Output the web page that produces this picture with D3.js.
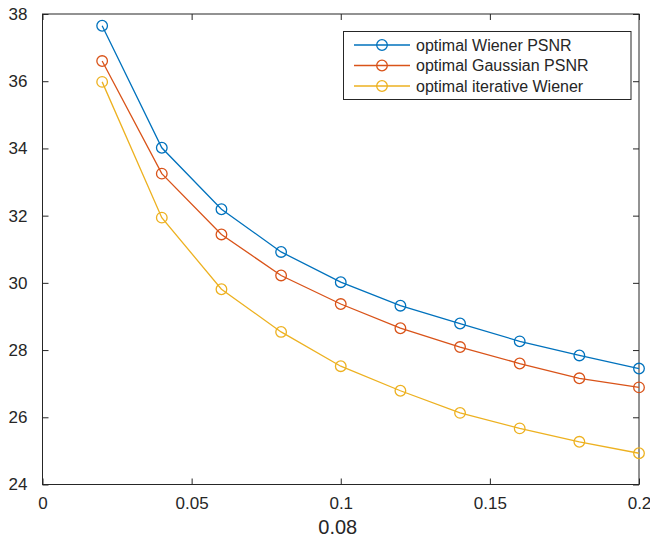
<!DOCTYPE html>
<html>
<head>
<meta charset="utf-8">
<script src="https://cdn.jsdelivr.net/npm/d3@7"></script>
<style>
  html, body { margin: 0; padding: 0; background: #fff; }
  svg { display: block; }
  text { font-family: "Liberation Sans", Arial, Helvetica, sans-serif; fill: #262626; }
</style>
</head>
<body>
<svg id="chart" width="650" height="538"></svg>
<script>
const xValues = [0.02, 0.04, 0.06, 0.08, 0.10, 0.12, 0.14, 0.16, 0.18, 0.20];
const wienerPSNR = [37.65, 34.02, 32.19, 30.92, 30.02, 29.32, 28.79, 28.26, 27.84, 27.45];
const gaussianPSNR = [36.60, 33.25, 31.44, 30.22, 29.37, 28.65, 28.09, 27.60, 27.16, 26.89];
const iterativeWiener = [35.98, 31.94, 29.81, 28.54, 27.52, 26.79, 26.13, 25.67, 25.27, 24.93];
const seriesNames = ["optimal Wiener PSNR", "optimal Gaussian PSNR", "optimal iterative Wiener"];
const seriesColors = ["#0072BD", "#D95319", "#EDB120"];
const xTicks = [0, 0.05, 0.1, 0.15, 0.2];
const xTickLabels = ["0", "0.05", "0.1", "0.15", "0.2"];
const yTicks = [24, 26, 28, 30, 32, 34, 36, 38];
const xLabel = "0.08";

const series = [wienerPSNR, gaussianPSNR, iterativeWiener].map((vals, i) => ({
  name: seriesNames[i], color: seriesColors[i],
  points: vals.map((v, j) => ({ x: xValues[j], y: v }))
}));

const svg = d3.select("#chart");
const L = 42.5, R = 639, T = 14, B = 484.5;
const x = d3.scaleLinear().domain([0, 0.2]).range([L, R]);
const y = d3.scaleLinear().domain([24, 38]).range([B, T]);
const axisColor = "#262626";
const tickLen = 6;

// box
svg.append("rect").attr("x", L).attr("y", T).attr("width", R - L).attr("height", B - T)
  .attr("fill", "none").attr("stroke", axisColor).attr("stroke-width", 1);

// bottom axis
const xAxis = svg.append("g").attr("transform", `translate(0,${B})`)
  .call(d3.axisBottom(x).tickValues(xTicks).tickFormat((d, i) => xTickLabels[i]).tickSizeInner(-tickLen).tickSizeOuter(0).tickPadding(12));
xAxis.select(".domain").remove();
xAxis.selectAll("line").attr("stroke", axisColor);
xAxis.selectAll("text").attr("font-size", 17).attr("fill", axisColor).attr("font-family", "Liberation Sans, Arial, sans-serif");

// top ticks
const xTop = svg.append("g").attr("transform", `translate(0,${T})`)
  .call(d3.axisTop(x).tickValues(xTicks).tickFormat("").tickSizeInner(-tickLen).tickSizeOuter(0));
xTop.select(".domain").remove();
xTop.selectAll("line").attr("stroke", axisColor);

// left axis
const yAxis = svg.append("g").attr("transform", `translate(${L},0)`)
  .call(d3.axisLeft(y).tickValues(yTicks).tickFormat(d3.format("d")).tickSizeInner(-tickLen).tickSizeOuter(0).tickPadding(15));
yAxis.select(".domain").remove();
yAxis.selectAll("line").attr("stroke", axisColor);
yAxis.selectAll("text").attr("font-size", 17).attr("fill", axisColor).attr("font-family", "Liberation Sans, Arial, sans-serif");

// right ticks
const yRight = svg.append("g").attr("transform", `translate(${R},0)`)
  .call(d3.axisRight(y).tickValues(yTicks).tickFormat("").tickSizeInner(-tickLen).tickSizeOuter(0));
yRight.select(".domain").remove();
yRight.selectAll("line").attr("stroke", axisColor);

// x label
svg.append("text").attr("x", (L + R) / 2 - 3).attr("y", 534).attr("text-anchor", "middle")
  .attr("font-size", 20).text(xLabel);

// lines & markers
const line = d3.line().x(d => x(d.x)).y(d => y(d.y));
series.forEach(s => {
  svg.append("path").datum(s.points).attr("d", line).attr("fill", "none")
    .attr("stroke", s.color).attr("stroke-width", 1.3);
  svg.append("g").selectAll("circle").data(s.points).join("circle")
    .attr("cx", d => x(d.x)).attr("cy", d => y(d.y)).attr("r", 5.3)
    .attr("fill", "none").attr("stroke", s.color).attr("stroke-width", 1.3);
});

// legend
const lg = svg.append("g");
lg.append("rect").attr("x", 343.5).attr("y", 31.5).attr("width", 287.5).attr("height", 68)
  .attr("fill", "#fff").attr("stroke", axisColor).attr("stroke-width", 1);
series.forEach((s, i) => {
  const yy = 45 + i * 20.5;
  lg.append("line").attr("x1", 354).attr("x2", 410).attr("y1", yy).attr("y2", yy)
    .attr("stroke", s.color).attr("stroke-width", 1.3);
  lg.append("circle").attr("cx", 382).attr("cy", yy).attr("r", 5.3)
    .attr("fill", "none").attr("stroke", s.color).attr("stroke-width", 1.3);
  lg.append("text").attr("x", 416).attr("y", yy).attr("dy", "0.35em")
    .attr("font-size", 16).text(s.name);
});
</script>
</body>
</html>
